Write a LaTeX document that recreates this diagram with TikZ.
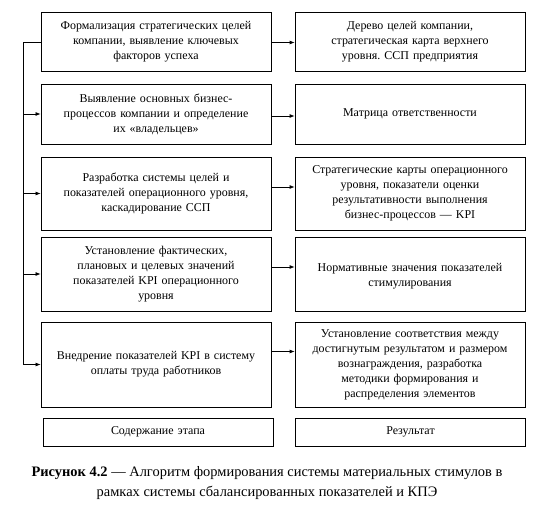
\documentclass[tikz,border=0pt]{standalone}
\usepackage{fontspec}
\setmainfont{Liberation Serif}
\usetikzlibrary{arrows.meta,positioning,calc}
\frenchspacing

\begin{document}
\begin{tikzpicture}[x=1bp,y=-1bp,>={Latex[length=5bp,width=4bp]},
    stepbox/.style={draw,line width=0.8bp,minimum width=230bp,text width=226bp,
      align=center,inner sep=2bp,font=\fontsize{12}{15}\selectfont},
    legend/.style={stepbox,minimum height=28bp},
    link/.style={line width=0.8bp}]
  \fill[white] (0,0) rectangle (545,507);
  \useasboundingbox (0,0) rectangle (545,507);
  % stages and results
  \node[stepbox,minimum height=59bp] (step1) at (156,41.5)
    {Формализация стратегических целей\\компании, выявление ключевых\\факторов успеха};
  \node[stepbox,minimum height=60bp] (step2) at (156,114)
    {Выявление основных бизнес-\\процессов компании и определение\\их «владельцев»};
  \node[stepbox,minimum height=73bp] (step3) at (156,193.5)
    {Разработка системы целей и\\показателей операционного уровня,\\каскадирование ССП};
  \node[stepbox,minimum height=74bp] (step4) at (156,274)
    {Установление фактических,\\плановых и целевых значений\\показателей KPI операционного\\уровня};
  \node[stepbox,minimum height=85bp] (step5) at (156,364.5)
    {Внедрение показателей KPI в систему\\оплаты труда работников};
  \node[stepbox,minimum height=59bp] (res1) at (410,41.5)
    {Дерево целей компании,\\стратегическая карта верхнего\\уровня. ССП предприятия};
  \node[stepbox,minimum height=60bp] (res2) at (410,114)
    {Матрица ответственности};
  \node[stepbox,minimum height=73bp] (res3) at (410,193.5)
    {Стратегические карты операционного\\уровня, показатели оценки\\результативности выполнения\\бизнес-процессов — KPI};
  \node[stepbox,minimum height=74bp,text depth=14bp] (res4) at (410,274)
    {Нормативные значения показателей\\стимулирования};
  \node[stepbox,minimum height=85bp] (res5) at (410,364.5)
    {Установление соответствия между\\достигнутым результатом и размером\\вознаграждения, разработка\\методики формирования и\\распределения элементов};
  \node[legend] (stage) at (158,432) {Содержание этапа};
  \node[legend] (result) at (410.5,432) {Результат};
  % caption
  \node[align=center,font=\fontsize{14.5}{20}\selectfont] (caption) at (267,483)
    {\textbf{Рисунок 4.2} — Алгоритм формирования системы материальных стимулов в\\
     рамках системы сбалансированных показателей и КПЭ};
  % connectors
  \coordinate (trunk) at (23,0);
  \draw[link,->] ([yshift=-1bp]step1.west) -- ([yshift=-1bp]step1.west -| trunk)
    |- (step5.west);
  \foreach \i in {2,3,4}{
    \draw[link,->] (step\i.west -| trunk) -- (step\i.west);
  }
  \draw[link,->] ([yshift=-1bp]step1.east) -- ([yshift=-1bp]res1.west);
  \draw[link,->] ([yshift=-2bp]step2.east) -- ([yshift=-2bp]res2.west);
  \draw[link,->] ([yshift=6.5bp]step3.east) -- ([yshift=6.5bp]res3.west);
  \draw[link,->] ([yshift=7bp]step4.east) -- ([yshift=7bp]res4.west);
  \draw[link,->] ([yshift=13bp]step5.east) -- ([yshift=13bp]res5.west);
\end{tikzpicture}
\end{document}
